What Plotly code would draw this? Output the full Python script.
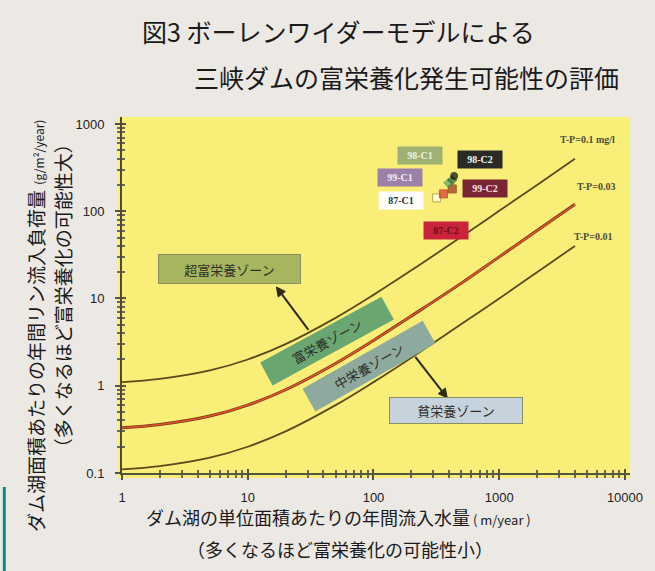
import math
import plotly.graph_objects as go

# ---- data ----
qs = [1, 2, 5, 10, 20, 50, 100, 200, 500, 1000, 2000, 4000]          # m/year
tp_010 = [1.1, 1.2, 1.5, 2.0, 3.0, 6.0, 11, 21, 51, 101, 200, 400]    # T-P=0.1 mg/l
tp_003 = [0.33, 0.36, 0.45, 0.6, 0.9, 1.8, 3.3, 6.3, 15, 30, 60, 120]  # T-P=0.03
tp_001 = [0.11, 0.12, 0.15, 0.2, 0.3, 0.6, 1.1, 2.1, 5.1, 10, 20, 40]  # T-P=0.01

obs_x = [318, 360, 423, 394, 423, 438]
obs_y = [142, 158, 180, 211, 228, 254]

point_labels = ["98-C1", "98-C2", "99-C1", "99-C2", "87-C1", "87-C2"]
curve_labels = ["T-P=0.1 mg/l", "T-P=0.03", "T-P=0.01"]
zone_labels = ["超富栄養ゾーン", "富栄養ゾーン", "中栄養ゾーン", "貧栄養ゾーン"]

x_tickvals = [1, 10, 100, 1000, 10000]
x_ticktext = ["1", "10", "100", "1000", "10000"]
y_tickvals = [0.1, 1, 10, 100, 1000]
y_ticktext = ["0.1", "1", "10", "100", "1000"]

title_lines = ["図3 ボーレンワイダーモデルによる", "三峡ダムの富栄養化発生可能性の評価"]
x_title = ["ダム湖の単位面積あたりの年間流入水量", "( m/year )", "（多くなるほど富栄養化の可能性小）"]
y_title = ["ダム湖面積あたりの年間リン流入負荷量", "(g/m²/year)", "（多くなるほど富栄養化の可能性大）"]

# ---- figure ----
JP = "Noto Sans CJK JP"
SANS = "Liberation Sans"
SERIF = "Liberation Serif"
BG = "#ECE8E4"
YEL = "#F9EF78"

fig = go.Figure()
fig.add_trace(go.Scatter(x=qs, y=tp_010, mode="lines", line=dict(color="#5a4a1e", width=1.8, shape="spline"),
                         hoverinfo="skip", showlegend=False))
fig.add_trace(go.Scatter(x=qs, y=tp_003, mode="lines", line=dict(color="#6a3a1a", width=3, shape="spline"),
                         hoverinfo="skip", showlegend=False))
fig.add_trace(go.Scatter(x=qs, y=tp_003, mode="lines", line=dict(color="#e8502a", width=1.6, shape="spline"),
                         hoverinfo="skip", showlegend=False))
fig.add_trace(go.Scatter(x=qs, y=tp_001, mode="lines", line=dict(color="#5a4a1e", width=1.8, shape="spline"),
                         hoverinfo="skip", showlegend=False))
fig.add_trace(go.Scatter(
    x=obs_x, y=obs_y, mode="markers", showlegend=False, xaxis="x2", yaxis="y2",
    marker=dict(symbol=["square", "square", "square", "diamond", "diamond", "circle"],
                size=[8, 8, 8, 7, 7, 7],
                color=["#ffffff", "#d83232", "#a03020", "#5aa868", "#2e6e3c", "#111111"],
                line=dict(color=["#9a9040", "#b02020", "#702010", "#3a7a48", "#1e4e2c", "#000000"],
                          width=1))))

axis_common = dict(type="log", showgrid=False, zeroline=False)
fig.update_layout(
    width=655, height=571,
    margin=dict(l=122, r=13, t=117, b=98),
    paper_bgcolor=BG, plot_bgcolor=YEL,
    xaxis=dict(**axis_common, range=[0, 4.04], tickmode="array", tickvals=x_tickvals, ticktext=x_ticktext,
               ticks="outside", ticklen=5, tickwidth=1.5, tickcolor="#55553f",
               minor=dict(ticks="outside", ticklen=3, tickcolor="#6a6a50", dtick="D1"),
               showline=True, linecolor="#55553f", linewidth=2,
               tickfont=dict(family=SANS, size=13, color="#222222"), ticklabelstandoff=6),
    yaxis=dict(**axis_common, range=[-1, 3.08], tickmode="array", tickvals=y_tickvals, ticktext=y_ticktext,
               ticks="outside", ticklen=5, tickwidth=1.5, tickcolor="#55553f",
               minor=dict(ticks="outside", ticklen=3, tickcolor="#6a6a50", dtick="D1"),
               showline=True, linecolor="#4a4a3a", linewidth=2,
               tickfont=dict(family=SANS, size=13, color="#222222"), ticklabelstandoff=8),
    xaxis2=dict(**axis_common, range=[0, 4.04], overlaying="x", anchor="y", showticklabels=False,
                tickmode="array", tickvals=x_tickvals, ticks="inside", ticklen=4, tickwidth=1.5,
                tickcolor="#55553f", minor=dict(ticks="inside", ticklen=3, tickcolor="#6a6a50", dtick="D1")),
    yaxis2=dict(**axis_common, range=[-1, 3.08], overlaying="y", anchor="x", showticklabels=False,
                tickmode="array", tickvals=y_tickvals, ticks="inside", ticklen=4, tickwidth=1.5,
                tickcolor="#55553f", minor=dict(ticks="inside", ticklen=3, tickcolor="#6a6a50", dtick="D1")),
    hovermode=False,
)

# horizontal grid lines at decades
for gv in [1, 10, 100]:
    fig.add_shape(type="line", xref="paper", x0=0, x1=1, yref="y", y0=gv, y1=gv,
                  line=dict(color="#d4c650", width=1), layer="below")

# slight yellow margin under the axis and teal strip
fig.add_shape(type="rect", xref="paper", yref="paper", x0=-0.008, x1=1, y0=-0.014, y1=1.0,
              fillcolor=YEL, line=dict(width=0), layer="below")
fig.add_shape(type="rect", xref="paper", yref="paper", x0=-0.2346, x1=-0.2288, y0=-0.2753, y1=-0.0393,
              fillcolor="#0a8a8a", line=dict(width=0))


# arrows drawn as pixel-sized shapes anchored at their heads
def add_arrow(head_x, head_y, tail_dx, tail_dy, color="#2e2a18", hl=9, hw=4.5):
    tx, ty = tail_dx, -tail_dy
    L = math.hypot(tx, ty)
    ux, uy = -tx / L, -ty / L
    bx, by = -hl * ux, -hl * uy
    nx, ny = -uy, ux
    common = dict(xref="x", yref="y", xsizemode="pixel", ysizemode="pixel",
                  xanchor=head_x, yanchor=head_y)
    fig.add_shape(type="path", path=f"M{tx:.2f},{ty:.2f}L{bx:.2f},{by:.2f}",
                  line=dict(color=color, width=2), **common)
    fig.add_shape(type="path",
                  path=f"M0,0L{bx + hw * nx:.2f},{by + hw * ny:.2f}L{bx - hw * nx:.2f},{by - hw * ny:.2f}Z",
                  fillcolor=color, line=dict(color=color, width=1), **common)


add_arrow(10 ** 1.228, 10 ** 1.132, 32, 43)
add_arrow(10 ** 2.587, 10 ** -0.140, -32, -41)

ann = []
# titles
ann.append(dict(xref="paper", yref="paper", x=0.0346, y=1.2416, xanchor="left", yanchor="middle",
                text=title_lines[0], showarrow=False, font=dict(family=JP, size=25, color="#1a1a1a")))
ann.append(dict(xref="paper", yref="paper", x=0.1385, y=1.1124, xanchor="left", yanchor="middle",
                text=title_lines[1], showarrow=False, font=dict(family=JP, size=25, color="#1a1a1a")))
# axis titles
ann.append(dict(xref="paper", yref="paper", x=0.4269, y=-0.1236, xanchor="center", yanchor="middle",
                text=x_title[0] + "<span style='font-size:13px'> " + x_title[1] + "</span>", showarrow=False,
                font=dict(family=JP, size=18, color="#1a1a1a")))
ann.append(dict(xref="paper", yref="paper", x=0.4288, y=-0.2135, xanchor="center", yanchor="middle",
                text=x_title[2], showarrow=False, font=dict(family=JP, size=18, color="#1a1a1a")))
ann.append(dict(xref="paper", yref="paper", x=-0.1712, y=0.4129, xanchor="center", yanchor="middle",
                textangle=-90, text=y_title[0] + "<span style='font-size:12px'>  " + y_title[1] + "</span>",
                showarrow=False, font=dict(family=JP, size=19, color="#1a1a1a")))
ann.append(dict(xref="paper", yref="paper", x=-0.1154, y=0.4972, xanchor="center", yanchor="middle",
                textangle=-90, text=y_title[2], showarrow=False, font=dict(family=JP, size=19, color="#1a1a1a")))

# point label boxes
pl_pos = [(2.366, 2.639), (2.848, 2.593), (2.214, 2.387), (2.890, 2.261), (2.222, 2.123), (2.580, 1.785)]
pl_bg = ["#9fb173", "#2a2a26", "#9b80aa", "#7a2434", "#ffffff", "#c9243c"]
pl_fg = ["#eef2e0", "#f5f5f0", "#f3ecf7", "#f6e0e4", "#333333", "#6a0c1c"]
for t, (px, py), bg, fg in zip(point_labels, pl_pos, pl_bg, pl_fg):
    ann.append(dict(x=px, y=py, text="<b>" + t + "</b>", showarrow=False, bgcolor=bg, width=40, height=13,
                    borderpad=2, font=dict(family=SERIF, size=10, color=fg)))

# curve labels
cl_pos = [(3.699, 2.817), (3.768, 2.278), (3.745, 1.716)]
for t, (px, py) in zip(curve_labels, cl_pos):
    ann.append(dict(x=px, y=py, text="<b>" + t + "</b>", showarrow=False,
                    font=dict(family=SERIF, size=10, color="#4d4d3a")))

# zone boxes
zone_pos = [(0.855, 1.338), (1.632, 0.513), (1.966, 0.226), (2.657, -0.289)]
zone_bg = ["#a7b55e", "#6aa672", "#8eaa9e", "#c6d3dc"]
zone_angle = [0, -28.5, -29.5, 0]
zone_w = [135, 130, 130, 126]
zone_h = [22, 18, 18, 19]
for t, (px, py), bg, ang, w, h in zip(zone_labels, zone_pos, zone_bg, zone_angle, zone_w, zone_h):
    ann.append(dict(x=px, y=py, text=t, showarrow=False, bgcolor=bg, width=w, height=h, borderpad=3,
                    textangle=ang, bordercolor="#8a8f60" if ang == 0 else bg, borderwidth=1,
                    font=dict(family=JP, size=13, color="#2f2f2a")))

fig.update_layout(annotations=ann)
fig.write_html("out.html")
